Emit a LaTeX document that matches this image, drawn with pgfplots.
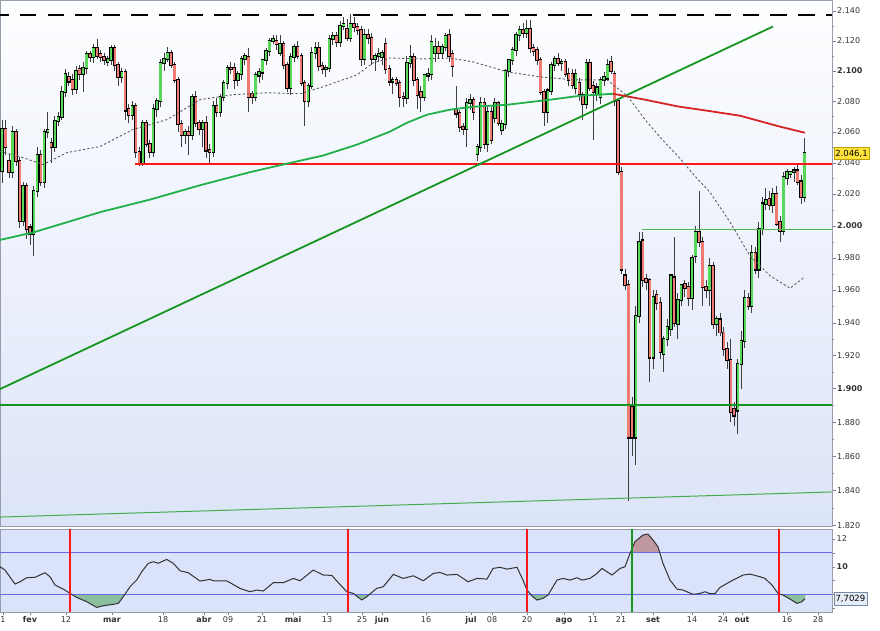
\documentclass[border=0pt]{standalone}
\usepackage{fontspec}
\setmainfont{DejaVu Sans}
\usepackage{pgfplots}
\pgfplotsset{compat=1.18}
\usepackage{pgfplotstable}

\definecolor{upc}{RGB}{88,216,88}
\definecolor{dnc}{RGB}{238,122,114}
\definecolor{trend}{RGB}{22,150,32}
\definecolor{maG}{RGB}{34,176,74}
\definecolor{maR}{RGB}{214,36,36}
\definecolor{hred}{RGB}{250,24,24}
\definecolor{frame}{RGB}{150,158,172}
\definecolor{bgtop}{RGB}{253,254,255}
\definecolor{bgbot}{RGB}{220,228,248}
\definecolor{lowbg}{RGB}{218,227,250}
\definecolor{band}{RGB}{104,104,236}
\definecolor{fillG}{RGB}{140,190,160}
\definecolor{fillP}{RGB}{192,152,162}
\definecolor{pbox}{RGB}{255,228,60}
\definecolor{pboxd}{RGB}{190,160,0}
\definecolor{obox}{RGB}{228,236,246}
\definecolor{oboxd}{RGB}{120,140,170}

% candles (index, open, high, low, close), prices in points
\pgfplotstableread{
k o h l c
1 2035 2068 2027 2062
2 2062 2068 2045 2050
3 2041 2046 2030 2034
4 2034 2064 2030 2060
5 2060 2062 2038 2041
6 2041 2044 1999 2003
7 2003 2028 2000 2025
8 2025 2027 1992 1998
9 1999 2001 1988 1995
10 1995 2025 1981 2022
11 2022 2050 2018 2045
12 2045 2048 2025 2028
13 2028 2062 2024 2060
14 2060 2073 2056 2061
15 2053 2056 2040 2050
16 2050 2070 2047 2067
17 2067 2073 2064 2070
18 2070 2090 2068 2086
19 2086 2101 2083 2098
20 2096 2099 2090 2093
21 2094 2098 2084 2088
22 2088 2103 2085 2100
23 2101 2104 2094 2098
24 2098 2106 2086 2102
25 2102 2113 2098 2111
26 2111 2113 2106 2109
27 2109 2118 2105 2115
28 2115 2121 2108 2110
29 2111 2114 2106 2109
30 2109 2112 2104 2107
31 2106 2110 2103 2108
32 2107 2117 2104 2115
33 2115 2117 2100 2104
34 2104 2106 2090 2096
35 2096 2102 2092 2099
36 2099 2101 2068 2074
37 2075 2078 2066 2071
38 2071 2080 2068 2077
39 2077 2079 2043 2047
40 2047 2050 2038 2040
41 2040 2068 2038 2066
42 2066 2068 2050 2052
43 2052 2055 2043 2047
44 2047 2078 2044 2075
45 2075 2082 2070 2080
46 2080 2108 2076 2105
47 2105 2112 2100 2108
48 2108 2116 2106 2112
49 2112 2114 2102 2104
50 2104 2106 2092 2094
51 2094 2096 2060 2065
52 2065 2068 2050 2058
53 2058 2062 2052 2060
54 2060 2064 2045 2058
55 2058 2085 2055 2083
56 2083 2087 2063 2066
57 2066 2068 2058 2062
58 2062 2068 2050 2066
59 2066 2070 2043 2048
60 2048 2052 2040 2047
61 2047 2080 2044 2077
62 2077 2082 2070 2073
63 2073 2085 2070 2083
64 2083 2094 2080 2092
65 2092 2104 2088 2102
66 2102 2106 2098 2101
67 2102 2105 2088 2094
68 2094 2100 2090 2098
69 2098 2110 2094 2108
70 2108 2112 2104 2110
71 2109 2115 2073 2083
72 2085 2087 2078 2083
73 2083 2099 2080 2097
74 2097 2102 2092 2099
75 2099 2108 2094 2107
76 2107 2115 2104 2113
77 2113 2122 2110 2120
78 2120 2124 2118 2121
79 2120 2124 2114 2118
80 2112 2124 2110 2118
81 2118 2120 2101 2104
82 2104 2106 2086 2089
83 2089 2112 2084 2109
84 2109 2118 2106 2116
85 2116 2120 2108 2110
86 2110 2112 2090 2092
87 2092 2094 2064 2080
88 2080 2092 2076 2090
89 2090 2116 2088 2112
90 2112 2119 2108 2115
91 2115 2119 2100 2103
92 2103 2106 2098 2101
93 2101 2104 2096 2102
94 2102 2124 2099 2121
95 2121 2126 2117 2123
96 2123 2126 2116 2119
97 2119 2133 2116 2130
98 2130 2136 2127 2131
99 2128 2135 2120 2122
100 2122 2138 2119 2131
101 2131 2136 2126 2129
102 2129 2132 2124 2127
103 2127 2130 2103 2108
104 2108 2128 2104 2124
105 2124 2128 2118 2122
106 2122 2125 2104 2108
107 2108 2112 2100 2110
108 2110 2115 2106 2111
109 2109 2114 2104 2112
110 2118 2122 2098 2101
111 2101 2104 2090 2093
112 2093 2096 2085 2094
113 2094 2096 2090 2092
114 2092 2094 2076 2083
115 2083 2086 2076 2082
116 2082 2110 2078 2105
117 2105 2117 2102 2109
118 2109 2112 2090 2094
119 2094 2096 2075 2084
120 2086 2090 2073 2083
121 2083 2098 2080 2097
122 2097 2102 2093 2098
123 2098 2124 2094 2119
124 2112 2122 2106 2116
125 2116 2120 2108 2112
126 2112 2118 2108 2116
127 2116 2125 2113 2123
128 2124 2128 2106 2110
129 2111 2114 2096 2103
130 2075 2090 2069 2072
131 2072 2074 2060 2063
132 2063 2066 2058 2062
133 2062 2082 2050 2079
134 2079 2085 2074 2081
135 2081 2083 2068 2073
136 2046 2052 2041 2050
137 2050 2083 2047 2079
138 2079 2082 2049 2052
139 2052 2076 2047 2073
140 2073 2076 2052 2055
141 2069 2082 2066 2079
142 2079 2080 2064 2066
143 2061 2068 2058 2065
144 2065 2101 2062 2100
145 2100 2108 2096 2107
146 2107 2116 2104 2114
147 2114 2126 2110 2124
148 2124 2130 2120 2127
149 2127 2132 2122 2125
150 2125 2134 2122 2128
151 2128 2134 2112 2115
152 2115 2118 2110 2113
153 2114 2116 2104 2107
154 2107 2109 2084 2086
155 2086 2088 2064 2073
156 2073 2089 2066 2087
157 2087 2106 2084 2104
158 2104 2110 2100 2108
159 2108 2112 2103 2105
160 2105 2108 2100 2106
161 2106 2108 2096 2098
162 2098 2102 2090 2094
163 2098 2101 2088 2091
164 2089 2101 2085 2098
165 2092 2095 2080 2085
166 2084 2086 2068 2078
167 2078 2108 2075 2105
168 2105 2108 2087 2089
169 2090 2093 2055 2086
170 2085 2092 2080 2089
171 2083 2096 2078 2094
172 2094 2099 2090 2096
173 2095 2108 2094 2104
174 2106 2110 2098 2100
175 2098 2100 2077 2080
176 2080 2082 2032 2034
177 2034 2037 1970 1973
178 1969 1973 1960 1963
179 1963 1966 1834 1871
180 1889 1895 1860 1871
181 1871 1950 1855 1944
182 1944 1996 1940 1990
183 1991 1996 1962 1966
184 1967 1970 1960 1965
185 1966 1968 1904 1919
186 1919 1960 1912 1956
187 1957 1960 1948 1952
188 1952 1956 1918 1922
189 1921 1932 1910 1930
190 1930 1942 1926 1937
191 1936 1970 1932 1969
192 1968 1993 1937 1940
193 1939 1958 1930 1954
194 1954 1964 1950 1963
195 1964 1966 1956 1961
196 1962 1965 1950 1955
197 1955 1982 1948 1980
198 1981 2000 1977 1996
199 1996 2022 1987 1990
200 1990 1993 1950 1962
201 1962 1966 1955 1960
202 1960 1980 1950 1975
203 1975 1978 1936 1939
204 1939 1944 1932 1942
205 1942 1946 1932 1934
206 1934 1937 1920 1924
207 1924 1928 1912 1917
208 1917 1930 1880 1886
209 1888 1892 1878 1884
210 1887 1918 1873 1915
211 1915 1935 1900 1929
212 1929 1960 1925 1955
213 1955 1958 1948 1950
214 1950 1988 1946 1983
215 1983 1987 1970 1973
216 1973 2002 1968 1998
217 1998 2018 1994 2014
218 2014 2024 2010 2016
219 2017 2022 2010 2013
220 2013 2024 2008 2020
221 2020 2025 2000 2001
222 2002 2006 1990 1997
223 1997 2034 1994 2031
224 2030 2036 2026 2034
225 2033 2035 2030 2034
226 2034 2037 2028 2035
227 2035 2040 2026 2028
228 2028 2032 2014 2018
229 2018 2056 2015 2046.1
}\candles

\begin{document}
\begin{tikzpicture}
\useasboundingbox (0pt,0pt) rectangle (880pt,630pt);

% ---------------- price panel (y in thousands of points, log scale) ----------------
\begin{axis}[
  at={(0pt,104pt)}, anchor=south west,
  scale only axis, width=832pt, height=526pt,
  xmin=0, xmax=832,
  ymode=log, ymin=1.8195, ymax=2.1475,
  xtick=\empty,
  ytick={1.82,1.84,1.86,1.88,1.90,1.92,1.94,1.96,1.98,2.00,2.02,2.04,2.06,2.08,2.10,2.12,2.14},
  yticklabels={1.820,1.840,1.860,1.880,\textbf{1.900},1.920,1.940,1.960,1.980,\textbf{2.000},2.020,2.040,2.060,2.080,\textbf{2.100},2.120,2.140},
  minor ytick={1.83,1.85,1.87,1.89,1.91,1.93,1.95,1.97,1.99,2.01,2.03,2.05,2.07,2.09,2.11,2.13},
  ytick pos=right, yticklabel pos=right, tick align=outside,
  major tick length=3.5pt, minor tick length=2pt,
  tick style={frame!80!black},
  axis line style={frame},
  yticklabel style={font=\fontsize{8}{9.6}\selectfont, text=black!80, inner sep=1.5pt},
  axis background/.style={top color=bgtop, bottom color=bgbot},
  clip mode=individual,
]
% wicks
\addplot[draw=none, mark=none,
  error bars/.cd, y dir=plus, y explicit, error mark=none,
  error bar style={draw=black!75, line width=0.8pt}]
  table[x expr={2+3.52*(\thisrow{k}-1)}, y expr={\thisrow{l}/1000}, y error expr={(\thisrow{h}-\thisrow{l})/1000}] {\candles};
% body outlines
\addplot[draw=none, mark=none,
  error bars/.cd, y dir=plus, y explicit, error mark=none,
  error bar style={draw=black, line width=3.4pt, line cap=butt}]
  table[x expr={2+3.52*(\thisrow{k}-1)}, y expr={(min(\thisrow{o},\thisrow{c})-0.7)/1000}, y error expr={(abs(\thisrow{c}-\thisrow{o})+1.4)/1000}] {\candles};
% up bodies
\addplot[draw=none, mark=none,
  error bars/.cd, y dir=plus, y explicit, error mark=none,
  error bar style={draw=upc, line width=2.2pt, line cap=butt}]
  table[x expr={2+3.52*(\thisrow{k}-1)}, y expr={\thisrow{o}/1000}, y error expr={max(\thisrow{c}-\thisrow{o},0)/1000}] {\candles};
% down bodies
\addplot[draw=none, mark=none,
  error bars/.cd, y dir=plus, y explicit, error mark=none,
  error bar style={draw=dnc, line width=2.2pt, line cap=butt}]
  table[x expr={2+3.52*(\thisrow{k}-1)}, y expr={\thisrow{c}/1000}, y error expr={max(\thisrow{o}-\thisrow{c},0)/1000}] {\candles};

% level and trend lines
\addplot[black, line width=1.8pt, dash pattern=on 16.5pt off 11.3pt, dash phase=8pt]
  coordinates {(0,2.1375) (832,2.1375)};
\addplot[hred, line width=1.8pt] coordinates {(135,2.0395) (832,2.0395)};
\addplot[trend, line width=1.5pt] coordinates {(0,1.8901) (832,1.8901)};
\addplot[green!60!black!70!white, line width=1pt] coordinates {(642,1.9976) (832,1.9976)};
\addplot[trend!80!white, line width=1pt] coordinates {(0,1.8246) (832,1.8392)};
\addplot[trend, line width=1.8pt] coordinates {(0,1.8996) (773,2.1296)};

% moving averages
\addplot[maG, line width=1.8pt] coordinates {
 (0,1.9914) (33,1.9958) (67,2.0021) (100,2.0085) (150,2.0165) (200,2.0256)
 (250,2.0340) (287,2.0395) (323,2.0447) (357,2.0518) (390,2.0602) (407,2.0660)
 (427,2.0712) (450,2.0745) (473,2.0764) (507,2.0777) (550,2.0810) (580,2.0836) (613,2.0849)};
\addplot[maR, line width=1.8pt] coordinates {
 (613,2.0849) (645,2.0810) (678,2.0766) (705,2.0740) (740,2.0705) (780,2.0634) (805,2.0595)};
\addplot[black!65, line width=0.9pt, dash pattern=on 2.2pt off 2.2pt] coordinates {
 (0,2.0473) (20,2.0440) (43,2.0389) (67,2.0466) (100,2.0505) (133,2.0616) (167,2.0680)
 (200,2.0810) (233,2.0843) (267,2.0856) (300,2.0849) (323,2.0895) (357,2.0974)
 (373,2.1053) (390,2.1086) (423,2.1080) (450,2.1086) (473,2.1060) (507,2.0994)
 (540,2.0961) (573,2.0941) (607,2.0941) (628,2.0830) (645,2.0680) (662,2.0551)
 (678,2.0443) (695,2.0314) (710,2.0212) (730,2.0022) (750,1.9814) (770,1.9691)
 (790,1.9611) (805,1.9684)};

\node[anchor=west, xshift=1.5pt, fill=pbox, draw=pboxd, inner xsep=1.6pt, inner ysep=2.4pt,
  font=\fontsize{8.5}{10}\selectfont] at (axis cs:832,2.0461) {2.046,1};
\end{axis}

% ---------------- oscillator panel ----------------
\begin{axis}[
  at={(0pt,18.3pt)}, anchor=south west,
  scale only axis, width=832pt, height=82.4pt,
  xmin=0, xmax=832, ymin=6.75, ymax=12.69,
  xtick={3,30,66,112,163,204,228,262,293,327,362,382,426,471,492,527,564,593,621,653,692,723,742,787,818},
  xticklabels={1,\textbf{fev},12,\textbf{mar},18,\textbf{abr},09,21,\textbf{mai},13,25,\textbf{jun},16,\textbf{jul},08,20,\textbf{ago},11,21,\textbf{set},14,24,\textbf{out},16,28},
  ytick={7,8,9,10,11,12},
  yticklabels={,,,\textbf{10},,12},
  xtick pos=lower, ytick pos=right, yticklabel pos=right, tick align=outside,
  major tick length=3pt,
  tick style={frame!80!black},
  axis line style={frame},
  ticklabel style={font=\fontsize{8}{9.6}\selectfont, text=black!80, inner sep=1.5pt},
  xticklabel style={text height=6pt, text depth=1.5pt},
  axis background/.style={fill=lowbg},
  clip mode=individual,
]
% shaded excursions outside the bands
\addplot[fill=fillG, draw=none] coordinates {(71.6,8) (76.7,7.78) (86.7,7.47) (96.7,7.06) (103.3,7.18) (113.3,7.28) (118.3,7.35) (123.3,7.83) (124.9,8)} -- cycle;
\addplot[fill=fillG, draw=none] coordinates {(354.5,8) (361.7,7.59) (366.7,7.83) (369.5,8)} -- cycle;
\addplot[fill=fillG, draw=none] coordinates {(530.6,8) (532,7.88) (537,7.59) (543,7.71) (548,7.95) (548.4,8)} -- cycle;
\addplot[fill=fillG, draw=none] coordinates {(780.9,8) (783,7.95) (790,7.66) (797,7.35) (802,7.47) (805,7.70) (805,8)} -- cycle;
\addplot[fill=fillP, draw=none] coordinates {(630.3,11) (635,11.80) (643,12.28) (648,12.35) (653,11.92) (658,11.43) (659.8,11)} -- cycle;

\addplot[band, line width=1.1pt] coordinates {(0,8) (832,8)};
\addplot[band, line width=1.1pt] coordinates {(0,11) (832,11)};

\addplot[black!80, line width=1pt, line join=round] coordinates {
 (0,9.99) (5,9.75) (15,8.74) (20,8.91) (26.7,9.20) (35,9.23) (45,9.56) (50,9.27)
 (55,8.67) (63.3,8.38) (70,8.07) (76.7,7.78) (86.7,7.47) (96.7,7.06) (103.3,7.18)
 (113.3,7.28) (118.3,7.35) (123.3,7.83) (130,8.55) (136.7,9.03) (141.7,9.63)
 (148.3,10.24) (153.3,10.35) (158.3,10.24) (166.7,10.52) (173.3,10.24) (180,9.70)
 (188.3,9.56) (200,8.96) (210,9.08) (213.3,8.98) (226.7,8.98) (240,8.43) (250,8.19)
 (256.7,8.31) (263.3,8.24) (273.3,8.84) (283.3,8.84) (293.3,9.15) (300,8.98)
 (313.3,9.75) (323.3,9.39) (331.7,9.37) (346.7,8.19) (353.3,8.07) (361.7,7.59)
 (366.7,7.83) (376.7,8.43) (383.3,8.55) (393.3,9.44) (403.3,9.15) (413.3,9.34)
 (423.3,8.98) (433.3,9.51) (440,9.58) (447,9.39) (457,9.44) (468,8.91) (477,9.15)
 (487,9.10) (493,9.87) (500,9.95) (507,9.82) (517,9.95) (523,9.03) (527,8.31)
 (532,7.88) (537,7.59) (543,7.71) (548,7.95) (557,9.03) (563,9.15) (570,9.03)
 (577,9.20) (582,9.03) (590,9.15) (597,9.51) (602,9.87) (607,9.63) (612,9.39)
 (620,9.87) (625,9.99) (630,10.95) (635,11.80) (643,12.28) (648,12.35) (653,11.92)
 (658,11.43) (663,10.23) (670,9.03) (677,8.38) (683,8.31) (692,8.03) (695,8.01)
 (700,8.07) (705,8.19) (710,8.05) (715,8.05) (720,8.50) (727,8.79) (733,9.03)
 (743,9.39) (750,9.46) (760,9.27) (765,9.15) (772,8.67) (778,8.07) (783,7.95)
 (790,7.66) (797,7.35) (802,7.47) (805,7.70)};

\addplot[hred, line width=1.8pt] coordinates {(69.7,6) (69.7,13)};
\addplot[hred, line width=1.8pt] coordinates {(347.7,6) (347.7,13)};
\addplot[hred, line width=1.8pt] coordinates {(526.7,6) (526.7,13)};
\addplot[trend, line width=1.8pt] coordinates {(631.7,6) (631.7,13)};
\addplot[hred, line width=1.8pt] coordinates {(779.3,6) (779.3,13)};

\node[anchor=west, xshift=1.5pt, fill=obox, draw=oboxd, inner xsep=1.8pt, inner ysep=2.6pt,
  font=\fontsize{8.5}{10}\selectfont] at (axis cs:832,7.7029) {7,7029};
\end{axis}
\end{tikzpicture}
\end{document}
